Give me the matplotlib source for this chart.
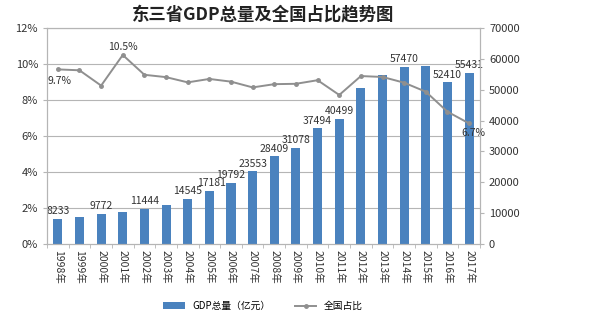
import numpy as np
import matplotlib.pyplot as plt
from matplotlib.ticker import FuncFormatter, MultipleLocator

plt.rcParams['font.family'] = ['Noto Sans CJK SC', 'DejaVu Sans']

# 东三省 GDP 总量（亿元）及占全国比重
years = [str(y) + '年' for y in range(1998, 2018)]
gdp = [8233, 8700, 9772, 10455, 11444, 12700, 14545, 17181, 19792, 23553,
       28409, 31078, 37494, 40499, 50477, 54648, 57470, 57815, 52410, 55431]
share = [9.7, 9.65, 8.8, 10.5, 9.4, 9.27, 8.98, 9.17, 9.02, 8.7,
         8.88, 8.9, 9.1, 8.28, 9.33, 9.28, 8.96, 8.46, 7.35, 6.7]
# 标注数值的年份
gdp_labeled = {0: 8233, 2: 9772, 4: 11444, 6: 14545, 7: 17181, 8: 19792, 9: 23553,
               10: 28409, 11: 31078, 12: 37494, 13: 40499, 16: 57470, 18: 52410, 19: 55431}
share_labeled = {0: '9.7%', 3: '10.5%', 19: '6.7%'}

bar_color = '#4a82be'
line_color = '#8f8f8f'
grid_color = '#b5b5b5'

fig = plt.figure(figsize=(5.98, 3.29), dpi=100)
ax_pct = fig.add_axes([0.0786, 0.258, 0.724, 0.657])
ax_gdp = ax_pct.twinx()

x = np.arange(len(years))

# 柱状图画在右轴，折线画在左轴并置于上层
ax_gdp.bar(x, gdp, width=0.42, color=bar_color, zorder=2, label='GDP总量（亿元）')
ax_gdp.set_ylim(0, 70000)
ax_gdp.yaxis.set_major_locator(MultipleLocator(10000))
ax_gdp.tick_params(axis='y', labelsize=8, colors='#333333', length=3, color=grid_color)

for i, v in gdp_labeled.items():
    dx = 0
    if i == 7:
        dx = 0.1
    ax_gdp.text(x[i] + dx, v + 900, str(v), ha='center', va='bottom', fontsize=7.5,
                color='#333333', zorder=5)

ax_pct.set_zorder(ax_gdp.get_zorder() + 1)
ax_pct.patch.set_visible(False)
ax_pct.plot(x, share, color=line_color, lw=1.4, marker='o', ms=2.5, zorder=4,
            label='全国占比')
ax_pct.set_ylim(0, 12)
ax_pct.yaxis.set_major_locator(MultipleLocator(2))
ax_pct.yaxis.set_major_formatter(FuncFormatter(lambda v, p: f'{v:.0f}%'))
ax_pct.tick_params(axis='y', labelsize=8, colors='#333333', length=3, color=grid_color)
ax_pct.set_xlim(-0.5, len(years) - 0.5)
ax_pct.set_xticks(x)
ax_pct.set_xticklabels(years, rotation=270, fontsize=7.5, color='#333333')
ax_pct.tick_params(axis='x', length=0, pad=4)
ax_pct.set_xticks(np.arange(-0.5, len(years)), minor=True)
ax_pct.tick_params(axis='x', which='minor', length=3, color=grid_color)

# 水平网格线
for g in range(2, 13, 2):
    ax_gdp.axhline(g / 12 * 70000, color=grid_color, lw=0.8, zorder=1)

ax_pct.text(x[0] + 0.1, share[0] - 0.35, share_labeled[0], ha='center', va='top',
            fontsize=7.5, color='#333333')
ax_pct.text(x[3], share[3] + 0.15, share_labeled[3], ha='center', va='bottom',
            fontsize=7.5, color='#333333')
ax_pct.text(x[19] + 0.2, share[19] - 0.55, share_labeled[19], ha='center', va='center',
            fontsize=7.5, color='#333333')

for a in (ax_pct, ax_gdp):
    for s in a.spines.values():
        s.set_color(grid_color)
        s.set_linewidth(0.8)

fig.text(0.44, 0.955, '东三省GDP总量及全国占比趋势图', ha='center', va='center',
         fontsize=12.5, fontweight='bold', color='#222222')

h1, l1 = ax_gdp.get_legend_handles_labels()
h2, l2 = ax_pct.get_legend_handles_labels()
fig.legend(h1 + h2, l1 + l2, loc='center', bbox_to_anchor=(0.44, 0.07), ncol=2,
           frameon=False, fontsize=7, handlelength=2.2, handleheight=0.6,
           columnspacing=2.5)

fig.savefig('out.png', dpi=100)
